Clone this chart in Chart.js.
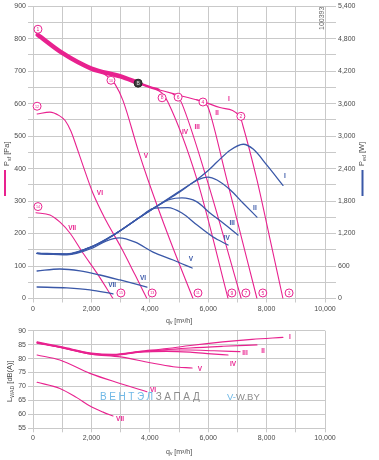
<!DOCTYPE html>
<html>
<head>
<meta charset="utf-8">
<script src="https://cdn.jsdelivr.net/npm/chart.js@4.4.1/dist/chart.umd.min.js"></script>
<style>
  html, body { margin: 0; padding: 0; background: #fff; }
  #wrap { position: relative; width: 379px; height: 460px; overflow: hidden; font-family: "Liberation Sans", Arial, sans-serif; }
  canvas { position: absolute; left: 0; }
  #top { top: 0; }
  #bot { top: 320px; }
  .wm { position: absolute; top: 391px; font-size: 10px; white-space: nowrap; pointer-events: none; }
  .blue { color: #6fb8e6; }
  .gray { color: #8c8c8c; }
</style>
</head>
<body>
<div id="wrap">
  <canvas id="top" width="379" height="330"></canvas>
  <canvas id="bot" width="379" height="140"></canvas>
  <div class="wm" style="left:100px; letter-spacing:2.6px;"><span class="blue">ВЕНТЭЛ</span><span class="gray">ЗАПАД</span></div>
  <div class="wm" style="left:227px; font-size:9.5px;"><span class="blue">V-</span><span class="gray">W.BY</span></div>
</div>
<script>
// flow axis (m³/h)
const qTicks = [0, 2000, 4000, 6000, 8000, 10000];

// static pressure curves p_sf [Pa], speed settings I..VII
const psfBand = [[160, 812], [1000, 756], [2000, 708], [3000, 684], [3600, 664]];
const psfBand2 = [[3500, 667], [4000, 651], [4300, 643]];
const psfI = [[160, 812], [1000, 756], [2000, 708], [3000, 684], [3600, 664], [4000, 651], [5000, 626], [5800, 607], [6400, 588], [7090, 560], [7180, 535], [7670, 365], [8100, 190], [8560, 0]];
const psfII = [[5600, 612], [5820, 604], [5980, 592], [6100, 560], [6640, 365], [7670, 0]];
const psfIII = [[4800, 628], [4970, 621], [5100, 600], [5960, 365], [7130, 0]];
const psfIV = [[4200, 645], [4420, 632], [4620, 605], [5620, 365], [6680, 0]];
const psfV = [[2300, 700], [2670, 675], [2810, 660], [3080, 610], [3600, 457], [3940, 365], [4690, 180], [5480, 0]];
const psfVI = [[140, 568], [580, 574], [900, 563], [1100, 548], [1300, 515], [1500, 465], [1710, 410], [2050, 325], [2500, 240], [3000, 160], [3500, 72], [3900, 0]];
const psfVII = [[100, 264], [580, 257], [925, 235], [1270, 201], [1710, 140], [2190, 78], [2740, 0]];

// input power P_ed [W]
const pedI = [[140, 840], [1160, 825], [2050, 969], [2740, 1172], [3660, 1505], [4350, 1745], [5000, 1975], [5620, 2200], [5990, 2360], [6300, 2520], [6750, 2740], [7200, 2850], [7540, 2760], [8010, 2464], [8560, 2090]];
const pedII = [[140, 835], [1160, 815], [2050, 965], [2740, 1165], [3660, 1500], [4350, 1740], [5000, 1960], [5620, 2185], [5990, 2243], [6300, 2190], [6750, 2010], [7190, 1765], [7670, 1504]];
const pedIII = [[140, 835], [1160, 815], [2050, 965], [2740, 1165], [3660, 1500], [4350, 1740], [4690, 1830], [5100, 1858], [5600, 1790], [6060, 1580], [6510, 1394], [7020, 1172]];
const pedIV = [[140, 835], [1160, 815], [2050, 965], [2740, 1165], [3660, 1500], [4100, 1660], [4620, 1680], [5100, 1580], [5620, 1357], [6170, 1135], [6680, 988]];
const pedV = [[140, 830], [1160, 805], [2050, 935], [2500, 1060], [2950, 1120], [3500, 1040], [4110, 858], [4800, 711], [5450, 563]];
const pedVI = [[140, 508], [920, 545], [1610, 510], [2290, 434], [2980, 342], [3900, 212]];
const pedVII = [[140, 212], [1160, 195], [1950, 160], [2740, 85]];

// sound power L_WAD [dB(A)]
const lwI = [[140, 86.0], [1000, 84.2], [2000, 82.0], [2740, 81.5], [3660, 82.6], [4590, 83.6], [5380, 84.7], [6500, 86.0], [7500, 86.9], [8560, 87.6]];
const lwII = [[140, 85.7], [1000, 84.0], [2000, 81.8], [2740, 81.3], [3660, 82.4], [4590, 83.2], [5380, 83.8], [6500, 84.4], [7670, 84.9]];
const lwIII = [[140, 85.7], [1000, 83.9], [2000, 81.7], [2740, 81.3], [3660, 82.5], [4590, 83.1], [5380, 83.1], [6200, 82.8], [7090, 82.5]];
const lwIV = [[140, 85.5], [1000, 83.8], [2000, 81.6], [2740, 81.2], [3660, 82.3], [4590, 82.6], [5380, 82.3], [6100, 81.7], [6680, 81.3]];
const lwV = [[140, 85.8], [1000, 83.9], [2000, 81.6], [3000, 80.6], [4010, 78.5], [4800, 77.1], [5450, 76.6]];
const lwVI = [[140, 81.3], [920, 79.5], [1950, 74.7], [2980, 71.1], [3900, 68.1]];
const lwVII = [[140, 71.5], [920, 69.3], [1500, 66.0], [1950, 63.0], [2400, 60.8], [2740, 59.4]];

// operating point markers [q, p_sf, number]
const pointMarks = [[170, 829, '1'], [2670, 672, '10'], [3600, 663, 'B'], [4420, 618, '8'], [4970, 620, '6'], [5820, 605, '4'], [7120, 561, '2'], [140, 592, '12'], [170, 283, '14'], [3010, 17, '15'], [4080, 17, '13'], [5650, 17, '11'], [6810, 17, '9'], [7290, 17, '7'], [7870, 17, '5'], [8770, 17, '3']];

// curve labels
const speeds = ['I', 'II', 'III', 'IV', 'V', 'VI', 'VII'];
const psfLabelPos = [[6710, 614], [6300, 571], [5620, 528], [5210, 512], [3870, 438], [2290, 325], [1340, 217]];
const pedLabelPos = [[8630, 2262], [7600, 1671], [6820, 1394], [6640, 1117], [5410, 729], [3770, 378], [2710, 249]];
const lwLabelPos = [[8800, 87.7], [7880, 82.7], [7260, 82.0], [6850, 78.1], [5720, 76.3], [4110, 68.7], [2980, 58.3]];

const PINK = '#e8228f';
const BLUE = '#3a58a8';
const GRID = '#c9c9c9';
const TXT = '#4a4a4a';
const FONT = '"Liberation Sans", Arial, sans-serif';

function pts(arr) {
  return arr.map(p => ({ x: p[0], y: p[1] }));
}

function line(arr, color, axis, width) {
  return {
    data: pts(arr),
    yAxisID: axis,
    borderColor: color,
    borderWidth: width || (color === BLUE ? 1.3 : 1.1),
    pointRadius: 0,
    fill: false,
    cubicInterpolationMode: 'monotone',
    borderCapStyle: 'round'
  };
}

function fmt(v) {
  return v.toLocaleString('en-US');
}

// text with subscript parts, e.g. [['P', false], ['sf', true], [' [Pa]', false]]
function drawSub(ctx, parts, x, y, size) {
  let cx = x;
  ctx.textAlign = 'left';
  parts.forEach(([t, sub]) => {
    ctx.font = (sub ? size * 0.7 : size) + 'px ' + FONT;
    ctx.fillText(t, cx, sub ? y + size * 0.3 : y);
    cx += ctx.measureText(t).width;
  });
}

function drawRotated(ctx, parts, x, y, size) {
  ctx.save();
  ctx.translate(x, y);
  ctx.rotate(-Math.PI / 2);
  ctx.textBaseline = 'middle';
  drawSub(ctx, parts, 0, 0, size);
  ctx.restore();
}

function xScale(height) {
  return {
    type: 'linear', min: 0, max: 10000,
    afterBuildTicks: s => {
      s.ticks = [];
      for (let v = 0; v <= 10000; v += 1000) s.ticks.push({ value: v });
    },
    ticks: {
      autoSkip: false, maxRotation: 0, padding: 2,
      color: TXT, font: { size: 7, family: FONT },
      callback: v => qTicks.includes(v) ? fmt(v) : ''
    },
    grid: { color: GRID, lineWidth: 1, tickLength: 4 },
    border: { color: GRID },
    afterFit: s => { s.height = height; }
  };
}

// top chart: pressure + power
const overlayTop = {
  id: 'overlayTop',
  afterDatasetsDraw(chart) {
    const ctx = chart.ctx;
    const xs = chart.scales.x, ys = chart.scales.y, y2 = chart.scales.y2;
    ctx.save();
    // markers
    pointMarks.forEach(([q, p, n]) => {
      const px = xs.getPixelForValue(q), py = ys.getPixelForValue(p);
      const dark = n === 'B';
      ctx.beginPath();
      ctx.arc(px, py, 4, 0, Math.PI * 2);
      ctx.fillStyle = dark ? '#3c3c3c' : '#fff';
      ctx.fill();
      ctx.lineWidth = 1;
      ctx.strokeStyle = dark ? '#222' : PINK;
      ctx.stroke();
      ctx.fillStyle = dark ? '#ddd' : PINK;
      ctx.font = (n.length > 1 ? 3.6 : 5) + 'px ' + FONT;
      ctx.textAlign = 'center';
      ctx.textBaseline = 'middle';
      ctx.fillText(n, px, py + 0.3);
    });
    // curve labels
    ctx.font = 'bold 6.5px ' + FONT;
    ctx.textAlign = 'center';
    ctx.textBaseline = 'middle';
    speeds.forEach((s, i) => {
      ctx.fillStyle = PINK;
      ctx.fillText(s, xs.getPixelForValue(psfLabelPos[i][0]), ys.getPixelForValue(psfLabelPos[i][1]));
      ctx.fillStyle = BLUE;
      ctx.fillText(s, xs.getPixelForValue(pedLabelPos[i][0]), y2.getPixelForValue(pedLabelPos[i][1]));
    });
    // axis titles
    ctx.fillStyle = TXT;
    drawRotated(ctx, [['P', false], ['sf', true], [' [Pa]', false]], 7, 166, 7.5);
    ctx.fillStyle = PINK;
    ctx.fillRect(4, 170, 2, 26);
    ctx.fillStyle = TXT;
    drawRotated(ctx, [['P', false], ['ed', true], [' [W]', false]], 362, 166, 7.5);
    ctx.fillStyle = BLUE;
    ctx.fillRect(361.5, 170, 2, 26);
    ctx.fillStyle = TXT;
    ctx.textBaseline = 'middle';
    drawSub(ctx, [['q', false], ['v', true], [' [m³/h]', false]], 166, 321, 7);
    ctx.font = '7px ' + FONT;
    ctx.save();
    ctx.translate(322, 30);
    ctx.rotate(-Math.PI / 2);
    ctx.textAlign = 'left';
    ctx.fillStyle = '#666';
    ctx.fillText('100393', 0, 0);
    ctx.restore();
    ctx.restore();
  }
};

new Chart(document.getElementById('top'), {
  type: 'line',
  data: {
    datasets: [
      line(pedVII, BLUE, 'y2'), line(pedVI, BLUE, 'y2'), line(pedV, BLUE, 'y2'), line(pedIV, BLUE, 'y2'),
      line(pedIII, BLUE, 'y2'), line(pedII, BLUE, 'y2'), line(pedI, BLUE, 'y2'),
      line(psfVII, PINK, 'y'), line(psfVI, PINK, 'y'), line(psfV, PINK, 'y'), line(psfIV, PINK, 'y'),
      line(psfIII, PINK, 'y'), line(psfII, PINK, 'y'), line(psfI, PINK, 'y'),
      line(psfBand, PINK, 'y', 4.5), line(psfBand2, PINK, 'y', 2.5)
    ]
  },
  options: {
    responsive: false,
    animation: false,
    parsing: false,
    layout: { padding: { top: 6, left: 0, right: 0, bottom: 0 } },
    plugins: { legend: { display: false }, tooltip: { enabled: false } },
    scales: {
      x: xScale(31.5),
      y: {
        type: 'linear', position: 'left', min: 0, max: 900,
        ticks: {
          stepSize: 50, autoSkip: false, padding: 2,
          color: TXT, font: { size: 7, family: FONT },
          callback: v => v % 100 === 0 ? String(v) : ''
        },
        grid: { color: GRID, lineWidth: 1, tickLength: 5 },
        border: { color: GRID },
        afterFit: s => { s.width = 33; }
      },
      y2: {
        type: 'linear', position: 'right', min: 0, max: 5400,
        ticks: {
          stepSize: 300, autoSkip: false, padding: 2,
          color: TXT, font: { size: 7, family: FONT },
          callback: v => v % 600 === 0 ? fmt(v) : ''
        },
        grid: { color: GRID, lineWidth: 1, drawOnChartArea: false, tickLength: 11 },
        border: { color: GRID },
        afterFit: s => { s.width = 54; }
      }
    }
  },
  plugins: [overlayTop]
});

// bottom chart: sound power
const overlayBot = {
  id: 'overlayBot',
  afterDatasetsDraw(chart) {
    const ctx = chart.ctx;
    const xs = chart.scales.x, ys = chart.scales.y;
    ctx.save();
    ctx.font = 'bold 6.5px ' + FONT;
    ctx.textAlign = 'center';
    ctx.textBaseline = 'middle';
    ctx.fillStyle = PINK;
    speeds.forEach((s, i) => {
      ctx.fillText(s, xs.getPixelForValue(lwLabelPos[i][0]), ys.getPixelForValue(lwLabelPos[i][1]));
    });
    ctx.fillStyle = TXT;
    drawRotated(ctx, [['L', false], ['WAD', true], [' [dB(A)]', false]], 10, 82, 7.5);
    ctx.textBaseline = 'middle';
    drawSub(ctx, [['q', false], ['v', true], [' [m³/h]', false]], 166, 132, 7);
    ctx.restore();
  }
};

new Chart(document.getElementById('bot'), {
  type: 'line',
  data: {
    datasets: [
      line(lwVII, PINK, 'y'), line(lwVI, PINK, 'y'), line(lwV, PINK, 'y'), line(lwIV, PINK, 'y'),
      line(lwIII, PINK, 'y'), line(lwII, PINK, 'y'), line(lwI, PINK, 'y')
    ]
  },
  options: {
    responsive: false,
    animation: false,
    parsing: false,
    layout: { padding: { top: 10.7, left: 0, right: 54, bottom: 0 } },
    plugins: { legend: { display: false }, tooltip: { enabled: false } },
    scales: {
      x: xScale(31.7),
      y: {
        type: 'linear', position: 'left', min: 55, max: 90,
        ticks: {
          stepSize: 5, padding: 2,
          color: TXT, font: { size: 7, family: FONT }
        },
        grid: { color: GRID, lineWidth: 1, tickLength: 5 },
        border: { color: GRID },
        afterFit: s => { s.width = 33; }
      }
    }
  },
  plugins: [overlayBot]
});
</script>
</body>
</html>
